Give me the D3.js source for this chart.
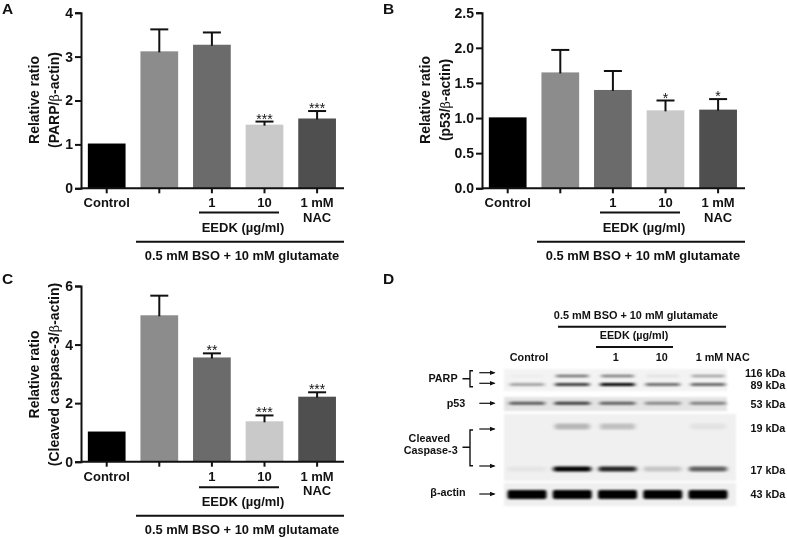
<!DOCTYPE html>
<html><head><meta charset="utf-8">
<script src="https://cdn.jsdelivr.net/npm/d3@7"></script>
<style>
html,body{margin:0;padding:0;background:#fff}
svg{display:block;filter:blur(0.35px)}
text{font-family:"Liberation Sans",Arial,sans-serif;font-weight:700;fill:#111}
</style></head><body>
<svg id="c" width="787" height="538"></svg>
<script>
const groups = ["Control", "BSO", "EEDK 1", "EEDK 10", "NAC"];
const barColors = ["#000000", "#8c8c8c", "#6b6b6b", "#c9c9c9", "#4f4f4f"];

const parpValues = [1.02, 3.12, 3.27, 1.45, 1.59];
const parpTops   = [null, 3.62, 3.55, 1.52, 1.76];
const parpStars  = ["", "", "", "***", "***"];
const parpTicks  = [0, 1, 2, 3, 4];

const p53Values = [1.01, 1.65, 1.40, 1.11, 1.12];
const p53Tops   = [null, 1.97, 1.67, 1.25, 1.27];
const p53Stars  = ["", "", "", "*", "*"];
const p53Ticks  = [0, 0.5, 1, 1.5, 2, 2.5];

const caspValues = [1.03, 5.00, 3.56, 1.38, 2.22];
const caspTops   = [null, 5.67, 3.70, 1.58, 2.37];
const caspStars  = ["", "", "**", "***", "***"];
const caspTicks  = [0, 2, 4, 6];

// Western blot: relative band darkness per lane
const lanes = ["Control", "BSO", "EEDK 1", "EEDK 10", "NAC"];
const parp116 = [0.03, 0.55, 0.50, 0.08, 0.35];
const parp89  = [0.33, 0.75, 1.00, 0.55, 0.58];
const p53Band = [0.62, 0.75, 0.60, 0.42, 0.45];
const casp19  = [0.00, 0.24, 0.20, 0.00, 0.06];
const casp17  = [0.05, 1.00, 0.85, 0.18, 0.60];
const actin   = [1.00, 1.00, 1.00, 1.00, 1.00];

const kdaLabels = ["116 kDa", "89 kDa", "53 kDa", "19 kDa", "17 kDa", "43 kDa"];

const svg = d3.select("#c");
const defs = svg.append("defs");
defs.append("filter").attr("id","bandBlur").attr("x","-20%").attr("y","-200%").attr("width","140%").attr("height","500%")
  .append("feGaussianBlur").attr("stdDeviation","2.2 1.1");
defs.append("filter").attr("id","thickBlur").attr("x","-20%").attr("y","-100%").attr("width","140%").attr("height","300%")
  .append("feGaussianBlur").attr("stdDeviation","1.8 1.1");
defs.append("filter").attr("id","panelBlur").attr("x","-5%").attr("y","-10%").attr("width","110%").attr("height","120%")
  .append("feGaussianBlur").attr("stdDeviation","0.8");
const arrowM = defs.append("marker").attr("id","arr").attr("markerWidth",6).attr("markerHeight",6)
  .attr("refX",5).attr("refY",3).attr("orient","auto").attr("markerUnits","userSpaceOnUse");
arrowM.append("path").attr("d","M0,0.5L6,3L0,5.5Z").attr("fill","#111");

function line(g,x1,y1,x2,y2,w=2){
  g.append("line").attr("x1",x1).attr("y1",y1).attr("x2",x2).attr("y2",y2)
   .attr("stroke","#111").attr("stroke-width",w);
}
function label(g,x,y,t,size,anchor="middle"){
  return g.append("text").attr("x",x).attr("y",y).attr("text-anchor",anchor).attr("font-size",size).text(t);
}

function barPanel(o){
  const g = svg.append("g");
  const x = d3.scaleBand().domain(groups).range([o.x0-0.6, o.x0+262.4]).paddingInner(0.283).paddingOuter(0.1415);
  const y = d3.scaleLinear().domain([0,o.max]).range([o.y0,o.yTop]);
  const c = d => x(d)+x.bandwidth()/2;

  g.selectAll("rect.bar").data(groups).join("rect").attr("class","bar")
    .attr("x",d=>x(d)).attr("width",x.bandwidth())
    .attr("y",(d,i)=>y(o.values[i])).attr("height",(d,i)=>o.y0-y(o.values[i]))
    .attr("fill",(d,i)=>barColors[i]);

  groups.forEach((d,i)=>{
    if(o.tops[i]==null) return;
    line(g,c(d),y(o.values[i])+1,c(d),y(o.tops[i]));
    line(g,c(d)-9,y(o.tops[i]),c(d)+9,y(o.tops[i]));
    if(o.stars[i]) label(g,c(d),y(o.tops[i])+2,o.stars[i],14).style("font-weight",400);
  });

  const ya = d3.axisLeft(y).tickValues(o.ticks).tickSize(6).tickPadding(2).tickFormat(o.fmt);
  const ag = g.append("g").attr("transform",`translate(${o.x0},0)`).call(ya);
  ag.selectAll("path,line").attr("stroke","#111").attr("stroke-width",2);
  ag.selectAll("text").attr("font-size",14).style("fill","#111");
  ag.attr("font-family",null);

  const xa = d3.axisBottom(x).tickSize(5).tickFormat("");
  const bg = g.append("g").attr("transform",`translate(0,${o.y0})`).call(xa);
  bg.selectAll("path,line").attr("stroke","#111").attr("stroke-width",2);
  bg.select("path").attr("d",`M${o.x0},0H${o.x0+263}`);

  const b = o.y0;
  label(g,c("Control"),b+19,"Control",13);
  label(g,c("EEDK 1"),b+19,"1",13);
  label(g,c("EEDK 10"),b+19,"10",13);
  label(g,c("NAC"),b+19,"1 mM",13);
  label(g,c("NAC"),b+33.5,"NAC",13);
  line(g,o.x0+118,b+o.d1,o.x0+198,b+o.d1);
  label(g,o.x0+162,b+o.d2,"EEDK (µg/ml)",13);
  line(g,o.x0+55,b+o.d3,o.x0+263,b+o.d3);
  label(g,o.x0+161,b+o.d4,"0.5 mM BSO + 10 mM glutamate",12.9);

  const tx = (lx,t1,t2) => {
    const tt = g.append("text").attr("transform",`translate(${lx},${o.labelY}) rotate(-90)`)
      .attr("text-anchor","middle").attr("font-size",14);
    tt.append("tspan").text(t1);
    if(t2!==undefined){
      tt.append("tspan").style("font-weight",400).attr("font-family","'DejaVu Serif',serif").attr("font-size",13).text("β");
      tt.append("tspan").text(t2);
    }
  };
  tx(o.lx1,"Relative ratio");
  tx(o.lx2,o.lab,"-actin)");
  label(g,o.px,o.py,o.letter,15.5,"start");
}

const fmt0 = d3.format("d"), fmt1 = d3.format(".1f");
barPanel({x0:81,y0:188.3,yTop:12.7,max:4,values:parpValues,tops:parpTops,stars:parpStars,ticks:parpTicks,fmt:fmt0,
  d1:24.2,d2:43.4,d3:53.4,d4:71.7,labelY:100,lx1:39,lx2:59,lab:"(PARP/",letter:"A",px:2,py:13.5});
barPanel({x0:482,y0:188.3,yTop:12.7,max:2.5,values:p53Values,tops:p53Tops,stars:p53Stars,ticks:p53Ticks,fmt:fmt1,
  d1:24.2,d2:43.4,d3:53.4,d4:71.7,labelY:100,lx1:430,lx2:450,lab:"(p53/",letter:"B",px:383,py:13.5});
barPanel({x0:81,y0:461.7,yTop:286,max:6,values:caspValues,tops:caspTops,stars:caspStars,ticks:caspTicks,fmt:fmt0,
  d1:25.6,d2:44.3,d3:54,d4:72.3,labelY:374.5,lx1:39,lx2:59,lab:"(Cleaved caspase-3/",letter:"C",px:2,py:283.5});

// ---- Panel D: blot ----
const gd = svg.append("g");
label(gd,383,284,"D",15.5,"start");
const laneX = d3.scalePoint().domain(lanes).range([527,708]);

const panels = [
  {x:504,y:369,w:223,h:22,f:"#f3f3f3"},
  {x:504,y:397,w:223,h:14,f:"#e4e4e4"},
  {x:504,y:414,w:232,h:67,f:"#f0f0f0"},
  {x:504,y:483,w:232,h:23,f:"#efefef"}
];
gd.selectAll("rect.panel").data(panels).join("rect").attr("class","panel")
  .attr("x",d=>d.x).attr("y",d=>d.y).attr("width",d=>d.w).attr("height",d=>d.h)
  .attr("fill",d=>d.f).attr("filter","url(#panelBlur)");

const rows = [
  {v:parp116,y:376,h:2.4,w:33,flt:"bandBlur"},
  {v:parp89, y:384.5,h:3,w:35,flt:"bandBlur"},
  {v:p53Band,y:403.3,h:3,w:36,flt:"bandBlur"},
  {v:casp19, y:426.5,h:6,w:35,flt:"bandBlur"},
  {v:casp17, y:469,h:5,w:38,flt:"bandBlur"},
  {v:actin,  y:494.5,h:9,w:39,flt:"thickBlur"}
];
rows.forEach(r=>{
  gd.append("g").attr("filter",`url(#${r.flt})`).selectAll("rect").data(lanes).join("rect")
    .attr("x",d=>laneX(d)-r.w/2).attr("width",r.w)
    .attr("y",r.y-r.h/2).attr("height",r.h).attr("rx",2)
    .attr("fill","#000").attr("fill-opacity",(d,i)=>r.v[i]);
});

label(gd,636,319.3,"0.5 mM BSO + 10 mM glutamate",10.9);
line(gd,558,326.7,726,326.7);
label(gd,634,339.3,"EEDK (µg/ml)",10.8);
line(gd,596,347,673,347);
label(gd,laneX("Control")+2,361,"Control",10.8);
label(gd,615.7,361,"1",10.8);
label(gd,661.7,361,"10",10.8);
label(gd,722.7,361,"1 mM NAC",10.8);

const kdaY = [377,389.3,407.7,431.7,474,497.7];
kdaLabels.forEach((t,i)=>label(gd,785.3,kdaY[i],t,10.8,"end"));

label(gd,443,381.7,"PARP",10.8);
label(gd,456,406.7,"p53",10.8);
label(gd,429.3,441.7,"Cleaved",10.8);
label(gd,430.7,454.3,"Caspase-3",10.8);
label(gd,448,495.7,"β-actin",10.8);

[372.7,383.3,403.3,429,466,494].forEach(y=>{
  gd.append("line").attr("x1",479.3).attr("y1",y).attr("x2",494.5).attr("y2",y)
    .attr("stroke","#111").attr("stroke-width",1.2).attr("marker-end","url(#arr)");
});
const bracket = (y1,y2,ym)=>{
  gd.append("path").attr("fill","none").attr("stroke","#111").attr("stroke-width",1.4)
    .attr("d",`M473,${y1}H470V${y2}H473M462.5,${ym}H470`);
};
bracket(370.7,386.7,378.7);
bracket(430,465.7,447.3);
</script>
</body></html>
